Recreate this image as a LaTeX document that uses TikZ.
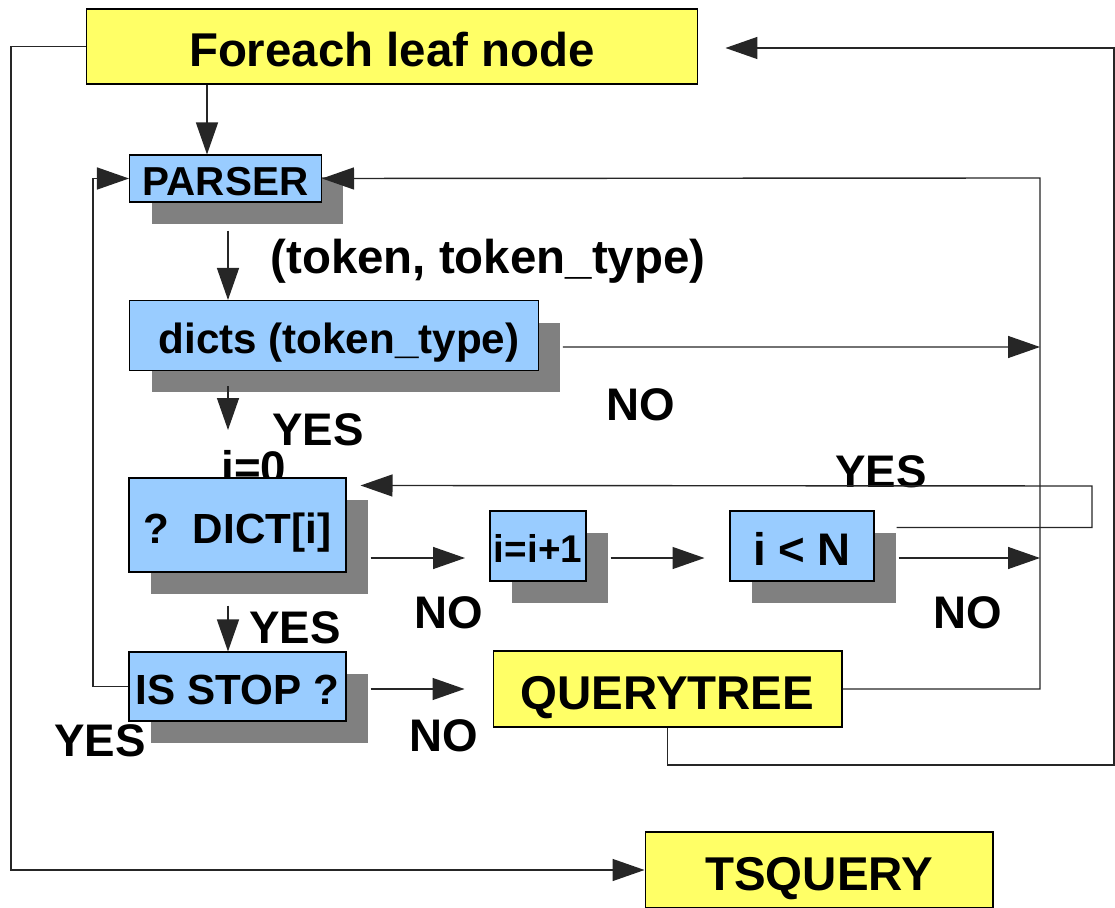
\documentclass[tikz,border=0pt]{standalone}
\usepackage{fontspec}
\setmainfont{Liberation Sans}
\usetikzlibrary{arrows.meta,calc,shadows}

\definecolor{boxblue}{HTML}{99CCFF}
\definecolor{boxyellow}{HTML}{FFFF66}
\definecolor{shadowgray}{HTML}{808080}

\begin{document}
\begin{tikzpicture}[x=0.02cm, y=-0.02cm,
  txt/.style={font=\fontsize{#1pt}{#1pt}\selectfont\bfseries, inner sep=0pt,
    text height=0.86*#1pt, text depth=0pt},
  lbl/.style={txt=26, anchor=base},
  yellowbox/.style={draw=black, fill=boxyellow, line width=0.6pt},
  bluebox/.style={draw=black, fill=boxblue, line width=0.6pt,
    general shadow={fill=shadowgray, shadow xshift=0.44cm, shadow yshift=-0.44cm}},
  arr/.style={draw=black!85, line width=0.8pt, -{Triangle[length=0.64cm, width=0.44cm]}}]
\useasboundingbox (0,0) rectangle (1115,908);

\node [lbl, txt=27] (tok) at (488,274) {(token, token\_type)};
\node [lbl] (noa) at (641,420) {NO};
\node [lbl] (yesa) at (318,446) {YES};
\node [lbl] (izero) at (254,483) {i=0};
\node [lbl] (yesb) at (881,487) {YES};
\node [lbl] (nob) at (449,628) {NO};
\node [lbl] (noc) at (968,628) {NO};
\node [lbl] (yesc) at (295,643) {YES};
\node [lbl] (nod) at (444,751) {NO};
\node [lbl] (yesd) at (100,756) {YES};

\node [yellowbox, txt=27, minimum width=12.24cm, minimum height=1.5cm] (foreach) at (392,46.5) {Foreach leaf node};
\node [bluebox, txt=23, minimum width=3.84cm, minimum height=0.94cm] (parser) at (225.5,178.5) {PARSER};
\node [bluebox, txt=24, minimum width=8.18cm, minimum height=1.4cm] (dicts) at (334,335.5) {\hspace{0.2cm}dicts (token\_type)};
\node [bluebox, txt=24, minimum width=4.34cm, minimum height=1.88cm] (dict) at (237.5,525) {?\ \ DICT[i]};
\node [bluebox, txt=22, minimum width=1.92cm, minimum height=1.4cm] (inc) at (538,546) {i=i+1};
\node [bluebox, txt=26, minimum width=2.88cm, minimum height=1.4cm] (lessn) at (802,546) {i < N};
\node [bluebox, txt=24, minimum width=4.34cm, minimum height=1.38cm] (stop) at (237.5,686.5) {IS STOP ?};
\node [yellowbox, txt=27, minimum width=6.98cm, minimum height=1.52cm] (qtree) at (667.5,689) {QUERYTREE};
\node [yellowbox, txt=27, minimum width=6.96cm, minimum height=1.52cm] (tsq) at (819,870) {TSQUERY};

\coordinate (rbus) at (1040,178);
\coordinate (lbus) at (11,870);
\coordinate (obus) at (1114,765);
\coordinate (lloop) at (93,400);
\coordinate (yesA) at (228,430);
\coordinate (noA) at (1040,347);
\coordinate (noB) at (465,558);
\coordinate (yesB) at (1092,486);
\coordinate (pin) at ($(parser.north)+(-18.5,0)$);
\coordinate (pout) at ($(parser.south)+(2.5,28)$);

\draw [arr] (pin |- foreach.south) -- (pin);
\draw [arr] (foreach.west) -| (lbus) -- (tsq.west);
\draw [arr] (qtree.south) |- (obus) |- ($(foreach.east)+(27,1.5)$);
\draw [arr] (qtree.east) -| (rbus) -- (parser.east);
\draw [arr] (stop.west) -| (lloop) |- (parser.west);
\draw [arr] (pout) -- (pout |- dicts.north);
\draw [arr] ($(dicts.east)+(24,11.5)$) -- (noA);
\draw [arr] ($(yesA |- dicts.south)+(0,15)$) -- (yesA);
\draw [arr] ($(dict.east |- noB)+(24,0)$) -- (noB);
\draw [arr] ($(inc.east |- noB)+(24,0)$) -- ($(lessn.west |- noB)+(-25,0)$);
\draw [arr] ($(lessn.east |- noB)+(24,0)$) -- (rbus |- noB);
\draw [arr] ($(lessn.north east)+(22,17)$) -| (yesB) -- ($(dict.north east)+(14,8)$);
\draw [arr] ($(yesA |- dict.south)+(0,33)$) -- (yesA |- stop.north);
\draw [arr] ($(stop.east |- qtree.west)+(24,0)$) -- ($(qtree.west)+(-28,0)$);
\end{tikzpicture}
\end{document}
